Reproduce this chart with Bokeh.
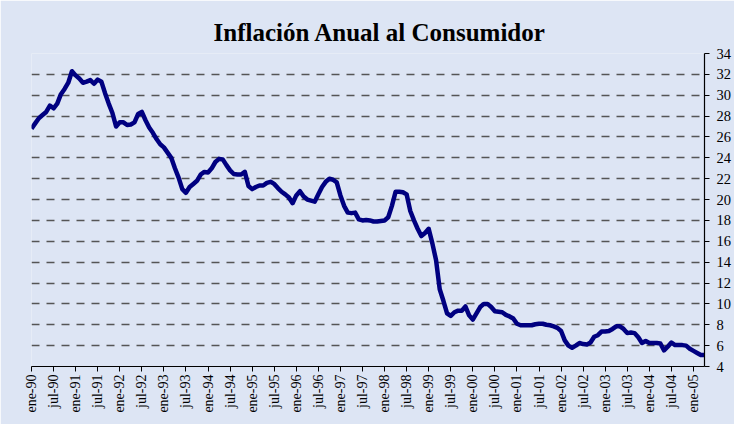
import math
from bokeh.plotting import figure
from bokeh.models import Range1d, FixedTicker, LinearAxis, Grid
from bokeh.embed import file_html
from bokeh.resources import INLINE

# Monthly annual CPI inflation (%), ene-90 .. abr-05
y1990 = [26.8, 27.3, 27.8, 28.1, 28.4, 29.0, 28.75, 29.2, 30.1, 30.6, 31.2, 32.3]
y1991 = [31.9, 31.6, 31.2, 31.3, 31.45, 31.1, 31.5, 31.3, 30.2, 29.2, 28.3, 27.0]
y1992 = [27.4, 27.4, 27.15, 27.2, 27.4, 28.2, 28.4, 27.6, 26.9, 26.4, 25.8, 25.3]
y1993 = [25.0, 24.5, 24.0, 23.0, 22.1, 21.0, 20.65, 21.2, 21.5, 21.8, 22.4, 22.65]
y1994 = [22.6, 23.0, 23.6, 23.9, 23.85, 23.3, 22.8, 22.45, 22.4, 22.4, 22.65, 21.3]
y1995 = [21.0, 21.2, 21.35, 21.35, 21.6, 21.7, 21.5, 21.1, 20.75, 20.5, 20.2, 19.65]
y1996 = [20.4, 20.8, 20.3, 20.0, 19.9, 19.8, 20.5, 21.2, 21.7, 22.0, 21.9, 21.65]
y1997 = [20.4, 19.4, 18.75, 18.7, 18.75, 18.1, 18.0, 18.05, 18.0, 17.9, 17.9, 17.95]
y1998 = [18.0, 18.3, 19.4, 20.75, 20.75, 20.7, 20.5, 18.9, 18.0, 17.2, 16.5, 16.8]
y1999 = [17.2, 15.8, 14.2, 11.4, 10.3, 9.1, 8.85, 9.2, 9.35, 9.35, 9.75, 8.9]
y2000 = [8.5, 9.1, 9.7, 10.0, 10.0, 9.7, 9.3, 9.25, 9.2, 8.95, 8.8, 8.6]
y2001 = [8.1, 7.95, 7.95, 7.95, 7.95, 8.05, 8.1, 8.1, 8.0, 7.95, 7.85, 7.7]
y2002 = [7.4, 6.5, 6.0, 5.8, 6.0, 6.25, 6.15, 6.1, 6.3, 6.85, 7.0, 7.35]
y2003 = [7.35, 7.4, 7.6, 7.85, 7.85, 7.6, 7.2, 7.25, 7.2, 6.8, 6.25, 6.45]
y2004 = [6.25, 6.25, 6.25, 6.2, 5.55, 5.9, 6.3, 6.05, 6.05, 6.05, 6.0, 5.7]
y2005 = [5.5, 5.3, 5.1, 5.1]

values = (y1990 + y1991 + y1992 + y1993 + y1994 + y1995 + y1996 + y1997
          + y1998 + y1999 + y2000 + y2001 + y2002 + y2003 + y2004 + y2005)
months = list(range(len(values)))

tick_labels = ["ene-90", "jul-90", "ene-91", "jul-91", "ene-92", "jul-92",
               "ene-93", "jul-93", "ene-94", "jul-94", "ene-95", "jul-95",
               "ene-96", "jul-96", "ene-97", "jul-97", "ene-98", "jul-98",
               "ene-99", "jul-99", "ene-00", "jul-00", "ene-01", "jul-01",
               "ene-02", "jul-02", "ene-03", "jul-03", "ene-04", "jul-04",
               "ene-05"]
tick_pos = [6 * i for i in range(len(tick_labels))]
y_ticks = list(range(4, 35, 2))

BG = "#dde5f4"

p = figure(width=734, height=424, output_backend="svg", toolbar_location=None,
           x_range=Range1d(0, months[-1]), y_range=Range1d(4, 34),
           title="Inflación Anual al Consumidor",
           min_border_left=31, min_border_right=29, min_border_top=53,
           min_border_bottom=58)
p.background_fill_color = BG
p.border_fill_color = BG
p.outline_line_color = None

p.title.text_font = "Liberation Serif"
p.title.text_font_size = "25px"
p.title.text_font_style = "bold"
p.title.text_color = "black"
p.title.align = "left"
p.title.offset = 182
p.title.standoff = 15

# axes
p.xaxis.ticker = FixedTicker(ticks=tick_pos)
p.xaxis.major_label_overrides = {t: l for t, l in zip(tick_pos, tick_labels)}
p.xaxis.major_label_orientation = math.pi / 2
p.xaxis.major_label_text_font = "Liberation Serif"
p.xaxis.major_label_text_font_size = "14px"
p.xaxis.major_label_text_color = "black"
p.xaxis.axis_line_color = "black"
p.xaxis.axis_line_width = 1.2
p.xaxis.major_tick_line_color = "black"
p.xaxis.major_tick_out = 5
p.xaxis.major_tick_in = 0
p.xaxis.minor_tick_line_color = None
p.xaxis.major_label_standoff = 3

p.yaxis.visible = False
yaxis = LinearAxis(ticker=FixedTicker(ticks=y_ticks))
yaxis.major_label_text_font = "Liberation Serif"
yaxis.major_label_text_font_size = "14.5px"
yaxis.major_label_text_color = "black"
yaxis.axis_line_color = "black"
yaxis.axis_line_width = 1.2
yaxis.major_tick_line_color = "black"
yaxis.major_tick_out = 5
yaxis.major_tick_in = 0
yaxis.minor_tick_line_color = None
yaxis.major_label_standoff = 7
p.add_layout(yaxis, "right")

p.xgrid.grid_line_color = None
p.ygrid.grid_line_color = None
g = Grid(dimension=1, ticker=FixedTicker(ticks=y_ticks[1:]))
g.grid_line_color = "#555555"
g.grid_line_width = 1.4
g.grid_line_dash = "8 7"
p.add_layout(g)

p.line(months, values, line_color="#000080", line_width=4.5, line_join="round")

open("out.html", "w").write(file_html(p, INLINE))
